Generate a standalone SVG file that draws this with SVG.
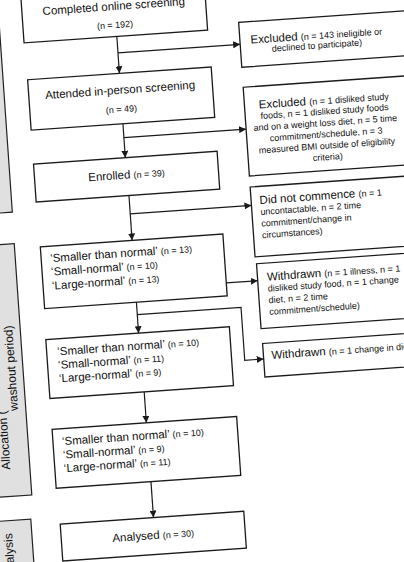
<svg xmlns="http://www.w3.org/2000/svg" width="404" height="562" viewBox="0 0 404 562">
<style>
.box{fill:#fff;stroke:#1a1a1a;stroke-width:1.3}
.panel{fill:#e0e0e0;stroke:#222;stroke-width:1.2}
.t{font-family:"Liberation Sans",Arial,sans-serif;fill:#111;font-size:11.5px}
.s{font-size:9px}
.m{text-anchor:middle}
.pt{font-family:"Liberation Sans",Arial,sans-serif;fill:#111;font-size:12px}
.con{fill:none;stroke:#1a1a1a;stroke-width:1.2}
</style>
<defs>
<marker id="ah" markerUnits="userSpaceOnUse" markerWidth="8" markerHeight="7" refX="7" refY="3.5" orient="auto">
<path d="M0,0 L7,3.5 L0,7 z" fill="#1a1a1a"/>
</marker>
</defs>
<rect x="-10" y="-10" width="424" height="582" fill="#fff"/>
<g transform="rotate(-4)">
<g id="panel-enrolment"><rect class="panel" x="-40" y="-40" width="37.5" height="252.5"/></g>
<g id="panel-allocation"><rect class="panel" x="-40" y="244" width="37.2" height="252"/>
<text class="pt" transform="translate(-22.4,469) rotate(-90)">Allocation (</text>
<text class="pt" text-anchor="middle" transform="translate(-10.6,368) rotate(-90)">washout period)</text></g>
<g id="panel-analysis"><rect class="panel" x="-40" y="520" width="34.5" height="80"/>
<text class="pt" text-anchor="middle" transform="translate(-25.2,555) rotate(-90)">Analysis</text></g>

<g id="connectors">
<path class="con" d="M114,44.5 V81.5" marker-end="url(#ah)"/>
<path class="con" d="M114,61 H236.5" marker-end="url(#ah)"/>
<path class="con" d="M114,132 V166" marker-end="url(#ah)"/>
<path class="con" d="M114,146 H236.5" marker-end="url(#ah)"/>
<path class="con" d="M115,204 V249" marker-end="url(#ah)"/>
<path class="con" d="M115,222.5 H236.5" marker-end="url(#ah)"/>
<path class="con" d="M115,311 V342" marker-end="url(#ah)"/>
<path class="con" d="M115,323.5 H219 V376.5 H238" marker-end="url(#ah)"/>
<path class="con" d="M206,298 H237.5" marker-end="url(#ah)"/>
<path class="con" d="M116.5,401 V432" marker-end="url(#ah)"/>
<path class="con" d="M117,491 V527" marker-end="url(#ah)"/>
</g>

<g id="online-screening"><rect class="box" x="21" y="-8" width="184" height="52.5"/>
<text class="t m" x="113" y="18">Completed online screening</text>
<text class="t s m" x="113" y="36">(n = 192)</text></g>

<g id="inperson-screening"><rect class="box" x="22" y="81.5" width="184" height="50.5"/>
<text class="t m" x="113.5" y="102">Attended in-person screening</text>
<text class="t s m" x="113.5" y="120.5">(n = 49)</text></g>

<g id="enrolled"><rect class="box" x="22" y="166" width="184" height="38"/>
<text class="t m" x="114" y="187">Enrolled <tspan class="s">(n = 39)</tspan></text></g>

<g id="period1"><rect class="box" x="23" y="249" width="183" height="62"/>
<text class="t" x="32" y="265">‘Smaller than normal’ <tspan class="s">(n = 13)</tspan></text>
<text class="t" x="32" y="278.5">‘Small-normal’ <tspan class="s">(n = 10)</tspan></text>
<text class="t" x="32" y="292.5">‘Large-normal’ <tspan class="s">(n = 13)</tspan></text></g>

<g id="period2"><rect class="box" x="22" y="342" width="184" height="59"/>
<text class="t" x="32.5" y="358.5">‘Smaller than normal’ <tspan class="s">(n = 10)</tspan></text>
<text class="t" x="32.5" y="372">‘Small-normal’ <tspan class="s">(n = 11)</tspan></text>
<text class="t" x="32.5" y="385.5">‘Large-normal’ <tspan class="s">(n = 9)</tspan></text></g>

<g id="period3"><rect class="box" x="22" y="432" width="185" height="59"/>
<text class="t" x="31" y="448.5">‘Smaller than normal’ <tspan class="s">(n = 10)</tspan></text>
<text class="t" x="31" y="462">‘Small-normal’ <tspan class="s">(n = 9)</tspan></text>
<text class="t" x="31" y="475.5">‘Large-normal’ <tspan class="s">(n = 11)</tspan></text></g>

<g id="analysed"><rect class="box" x="23.5" y="527" width="184" height="37"/>
<text class="t m" x="115.5" y="548.5">Analysed <tspan class="s">(n = 30)</tspan></text></g>

<g id="excluded1"><rect class="box" x="236.5" y="39" width="170" height="45"/>
<text class="t m" x="313" y="61">Excluded <tspan class="s">(n = 143 ineligible or</tspan></text>
<text class="t s m" x="313" y="70.5">declined to participate)</text></g>

<g id="excluded2"><rect class="box" x="236.5" y="104" width="170" height="89"/>
<text class="t m" x="316" y="126.3">Excluded <tspan class="s">(n = 1 disliked study</tspan></text>
<text class="t s m" x="316" y="136.9">foods, n = 1 disliked study foods</text>
<text class="t s m" x="316" y="148.3">and on a weight loss diet, n = 5 time</text>
<text class="t s m" x="316" y="159.7">commitment/schedule, n = 3</text>
<text class="t s m" x="316" y="171.1">measured BMI outside of eligibility</text>
<text class="t s m" x="316" y="182.5">criteria)</text></g>

<g id="not-commence"><rect class="box" x="236.5" y="204" width="170" height="70"/>
<text class="t" x="245" y="221.6">Did not commence <tspan class="s">(n = 1</tspan></text>
<text class="t s" x="245" y="232.6">uncontactable, n = 2 time</text>
<text class="t s" x="245" y="244.3">commitment/change in</text>
<text class="t s" x="245" y="255.9">circumstances)</text></g>

<g id="withdrawn1"><rect class="box" x="237.5" y="281" width="170" height="65"/>
<text class="t" x="247" y="298.6">Withdrawn <tspan class="s">(n = 1 illness, n = 1</tspan></text>
<text class="t s" x="247" y="309.5">disliked study food, n = 1 change</text>
<text class="t s" x="247" y="321.2">diet, n = 2 time</text>
<text class="t s" x="247" y="332.9">commitment/schedule)</text></g>

<g id="withdrawn2"><rect class="box" x="238" y="361" width="170" height="33.5"/>
<text class="t" x="246" y="377">Withdrawn <tspan class="s">(n = 1 change in diet)</tspan></text></g>
</g>
</svg>
